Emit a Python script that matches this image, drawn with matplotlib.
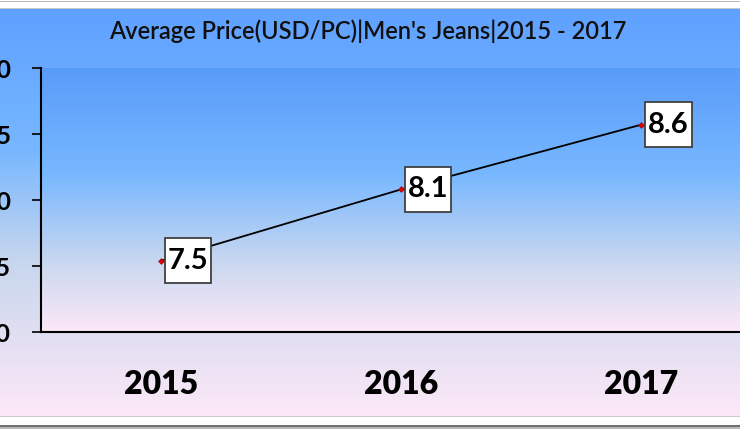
import matplotlib
matplotlib.use("Agg")
import matplotlib.pyplot as plt
import numpy as np
from matplotlib.colors import LinearSegmentedColormap
from matplotlib.path import Path

years = ["2015", "2016", "2017"]
avg_price = [7.54, 8.08, 8.57]
y_ticks = [7.0, 7.5, 8.0, 8.5, 9.0]
title = "Average Price(USD/PC)|Men's Jeans|2015 - 2017"

W, H = 740, 430
fig = plt.figure(figsize=(W / 100, H / 100), dpi=100)
fig.patch.set_facecolor("white")

def px(x0, y0, x1, y1):
    return [x0 / W, 1 - y1 / H, (x1 - x0) / W, (y1 - y0) / H]

# outer background gradient
bg = fig.add_axes(px(0, 9, W, 416), zorder=0)
grad_cols = [(0.0, (0.37, 0.63, 1.0)), (0.35, (0.47, 0.72, 1.0)),
             (0.62, (0.78, 0.84, 0.93)), (1.0, (0.99, 0.91, 0.97))]
cmap = LinearSegmentedColormap.from_list("g", grad_cols)
bg.imshow(np.linspace(0, 1, 256).reshape(-1, 1), aspect="auto", cmap=cmap,
          extent=[0, 1, 0, 1], origin="upper")
bg.set_axis_off()

# frame lines
for (y, c, lw) in [(0.5, "#bbbbbb", 1), (8, "#c8c8c8", 1), (416, "#d0c8d0", 1),
                   (425.5, "#404040", 1.5), (428, "#a0a0a0", 1.5)]:
    fig.add_artist(plt.Line2D([0, 1], [1 - y / H, 1 - y / H], color=c, lw=lw * 0.72,
                              transform=fig.transFigure))

ax = fig.add_axes(px(41, 68, 761, 332), zorder=1)
ax.patch.set_alpha(0)
# plot area gradient
grad2 = [(0.0, (0.35, 0.61, 0.98)), (0.4, (0.47, 0.72, 1.0)),
         (0.75, (0.80, 0.85, 0.94)), (1.0, (0.99, 0.91, 0.97))]
cmap2 = LinearSegmentedColormap.from_list("g2", grad2)
x = np.arange(len(years))
ax.imshow(np.linspace(0, 1, 256).reshape(-1, 1), aspect="auto", cmap=cmap2,
          extent=[-0.5, 2.5, 7.0, 9.0], origin="upper", zorder=0)
ax.set_xlim(-0.5, 2.5)
ax.set_ylim(7.0, 9.0)

ax.plot(x, avg_price, color="black", lw=1.3, zorder=2)
ax.plot(x, avg_price, ls="none", marker="D", ms=3, color="#e00000",
        markeredgecolor="#a00000", markeredgewidth=0.4, zorder=3)


def tallbox(x0, y0, width, height, mutation_size):
    padx = 0.1 * mutation_size
    pady = 0.33 * mutation_size
    x0, y0 = x0 - padx, y0 - pady
    x1, y1 = x0 + width + 2 * padx, y0 + height + 2 * pady
    return Path([(x0, y0), (x1, y0), (x1, y1), (x0, y1), (x0, y0)], closed=True)


for xi, v in zip(x, avg_price):
    ax.annotate(f"{v:.1f}", (xi, v), xytext=(5.0, 0), textcoords="offset points",
                ha="left", va="center", fontsize=21, fontweight="bold",
                family="Lato", color="black", zorder=5,
                bbox=dict(boxstyle=tallbox, fc="white", ec="#404040", lw=1.3))

for s in ["top", "right"]:
    ax.spines[s].set_visible(False)
ax.spines["left"].set_linewidth(1.5)
ax.spines["bottom"].set_linewidth(1.5)

ax.set_yticks(y_ticks)
ax.set_yticklabels([f"{t:.1f}" for t in y_ticks], fontsize=18, fontweight="bold",
                   family="Lato")
ax.tick_params(axis="y", length=6.5, width=1.2, pad=15, direction="out")
ax.set_xticks(x)
ax.set_xticklabels(years, fontsize=23, fontweight="heavy", family="Lato")
ax.tick_params(axis="x", length=0, pad=27)

fig.text(368 / W, 1 - 31 / H, title, ha="center", va="center", fontsize=17,
         fontweight=600, family="Lato", color="#101010")

fig.savefig("out.png", dpi=100)
